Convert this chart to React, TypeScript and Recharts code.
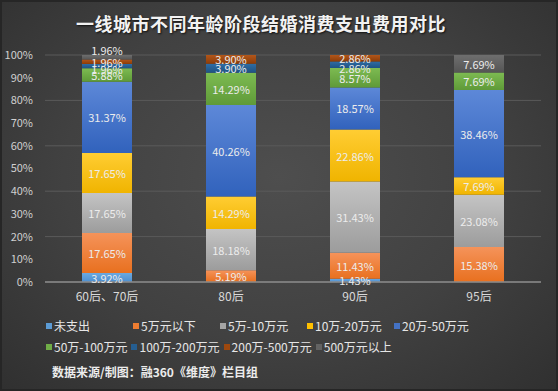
import React from "react";
import { BarChart, Bar, XAxis, YAxis, CartesianGrid, LabelList } from "recharts";

const categories = ["60后、70后", "80后", "90后", "95后"];
const seriesNames = [
  "未支出",
  "5万元以下",
  "5万-10万元",
  "10万-20万元",
  "20万-50万元",
  "50万-100万元",
  "100万-200万元",
  "200万-500万元",
  "500万元以上",
];
// one array per series, in category order
const noSpend = [3.92, 0, 1.43, 0];
const under5 = [17.65, 5.19, 11.43, 15.38];
const from5to10 = [17.65, 18.18, 31.43, 23.08];
const from10to20 = [17.65, 14.29, 22.86, 7.69];
const from20to50 = [31.37, 40.26, 18.57, 38.46];
const from50to100 = [5.88, 14.29, 8.57, 7.69];
const from100to200 = [1.96, 3.9, 2.86, 0];
const from200to500 = [1.96, 3.9, 2.86, 0];
const over500 = [1.96, 0, 0, 7.69];
const yTicks = [0, 10, 20, 30, 40, 50, 60, 70, 80, 90, 100];

const seriesValues = [
  noSpend, under5, from5to10, from10to20, from20to50,
  from50to100, from100to200, from200to500, over500,
];

// [top, bottom] gradient stops, plus legend swatch
const colors: [string, string, string][] = [
  ["#6aa8e0", "#4d8fd0", "#5b9bd5"],
  ["#f5935a", "#e8701f", "#ed7d31"],
  ["#c4c4c4", "#9c9c9c", "#a5a5a5"],
  ["#ffcd33", "#f0b400", "#ffc000"],
  ["#5d88d8", "#3162bc", "#4472c4"],
  ["#7dbb52", "#5f9a38", "#70ad47"],
  ["#2f6ca3", "#1f5282", "#255e91"],
  ["#b2561a", "#8c3c08", "#9e480e"],
  ["#6e6e6e", "#555555", "#636363"],
];

const data = categories.map((name, i) => {
  const row: Record<string, string | number> = { name };
  seriesNames.forEach((s, k) => {
    row[s] = seriesValues[k][i];
  });
  return row;
});

const font = '"Noto Sans CJK SC", "Noto Sans", sans-serif';

// thin top segments: nudge labels apart a little, like the original
const smallShift: Record<number, number> = { 8: -7, 6: 3 };

const makeLabel = (k: number) => (props: any) => {
  const { x, y, width, height, value } = props;
  if (!value || value <= 0) return null;
  const h = Number(height);
  const dy = h < 7 && smallShift[k] ? smallShift[k] : 0;
  return (
    <text
      x={Number(x) + Number(width) / 2}
      y={Number(y) + h / 2 + dy}
      textAnchor="middle"
      dominantBaseline="central"
      fill="#ececec"
      fontSize={11}
      fontFamily={font}
    >
      {`${Number(value).toFixed(2)}%`}
    </text>
  );
};

export default function App() {
  return (
    <div
      style={{
        position: "absolute",
        left: 0,
        top: 0,
        width: 558,
        height: 391,
        boxSizing: "border-box",
        border: "2px solid #262626",
        background: "radial-gradient(ellipse at 50% 45%, #4e4e4e 0%, #414141 55%, #303030 100%)",
        fontFamily: font,
        overflow: "hidden",
      }}
    >
      <div
        style={{
          position: "absolute",
          top: 8,
          left: 0,
          width: 518,
          textAlign: "center",
          color: "#f2f2f2",
          fontSize: 18,
          fontWeight: 700,
          letterSpacing: 0.5,
          textShadow: "1px 1px 2px #111",
        }}
      >
        一线城市不同年龄阶段结婚消费支出费用对比
      </div>

      <div style={{ position: "absolute", left: -2, top: -2 }}>
        <BarChart
          width={558}
          height={391}
          data={data}
          barSize={50}
          margin={{ top: 55, right: 17, left: 0, bottom: 79 }}
        >
          <defs>
            {colors.map((c, k) => (
              <linearGradient key={k} id={`g${k}`} x1="0" y1="0" x2="0" y2="1">
                <stop offset="0%" stopColor={c[0]} />
                <stop offset="100%" stopColor={c[1]} />
              </linearGradient>
            ))}
          </defs>
          <CartesianGrid vertical={false} stroke="#5a5a5a" />
          <XAxis
            dataKey="name"
            axisLine={{ stroke: "#8a8a8a", strokeWidth: 1.5 }}
            tickLine={false}
            height={30}
            tickMargin={4}
            tick={{ fill: "#d9d9d9", fontSize: 12, fontFamily: font }}
          />
          <YAxis
            type="number"
            domain={[0, 100]}
            ticks={yTicks}
            allowDataOverflow
            width={45}
            axisLine={false}
            tickLine={false}
            tickMargin={6}
            tickFormatter={(v: number) => `${v}%`}
            tick={{ fill: "#d0d0d0", fontSize: 11, fontFamily: font }}
          />
          {seriesNames.map((s, k) => (
            <Bar
              key={s}
              dataKey={s}
              stackId="a"
              fill={`url(#g${k})`}
              isAnimationActive={false}
            >
              <LabelList dataKey={s} content={makeLabel(k)} />
            </Bar>
          ))}
        </BarChart>
      </div>

      <div
        style={{
          position: "absolute",
          left: 44,
          top: 313,
          width: 480,
          display: "flex",
          flexWrap: "wrap",
          color: "#e6e6e6",
          fontSize: 12,
          lineHeight: "21px",
        }}
      >
        {seriesNames.map((s, k) => (
          <div
            key={s}
            style={{
              width: k < 5 ? 87 : undefined,
              marginRight: k < 5 ? 0 : 4,
              display: "flex",
              alignItems: "center",
              whiteSpace: "nowrap",
            }}
          >
            <span
              style={{
                display: "inline-block",
                width: 6,
                height: 6,
                background: colors[k][2],
                marginRight: 2,
              }}
            />
            {s}
          </div>
        ))}
      </div>

      <div
        style={{
          position: "absolute",
          left: 50,
          top: 361,
          color: "#ececec",
          fontSize: 12,
          fontWeight: 700,
        }}
      >
        数据来源/制图：融360《维度》栏目组
      </div>
    </div>
  );
}
